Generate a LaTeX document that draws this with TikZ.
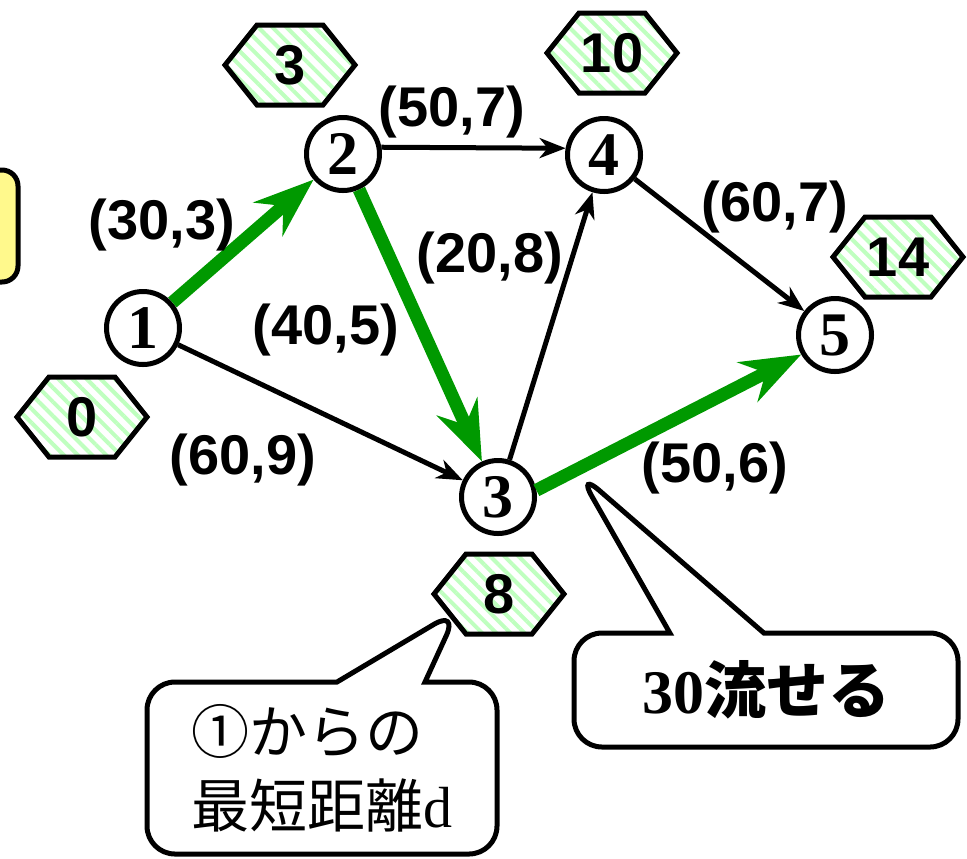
\documentclass[tikz,border=0pt]{standalone}
\usepackage{fontspec}
\setmainfont{Liberation Serif}
\newfontfamily\lsans{Liberation Sans}
\newfontfamily\cjk{Noto Sans CJK JP}
\usetikzlibrary{shapes.geometric, shapes.callouts, arrows.meta, patterns.meta, backgrounds}
\tikzset{
    vertex/.style={circle, draw=black, line width=2.5pt, fill=white, minimum size=36.5pt, inner sep=0pt, font=\fontsize{31}{31}\selectfont\bfseries},
    distnum/.style={inner sep=0pt, font=\lsans\fontsize{28}{28}\selectfont\bfseries},
    hexagon/.style={draw=black, line width=2.5pt, line join=miter, preaction={fill=white}, pattern={Lines[angle=-45, distance=5pt, line width=2pt]}, pattern color=green!25},
    weight/.style={font=\lsans\fontsize{28}{28}\selectfont\bfseries, inner sep=0pt},
    arrow/.style={line width=2.5pt, -{Stealth[length=13pt, width=10pt, inset=4pt]}},
    flowarrow/.style={line width=6.5pt, draw=green!60!black, -{Stealth[length=30pt, width=22pt, inset=10pt]}},
    callbox/.style={rectangle callout, draw=black, line width=2.5pt, fill=white, rounded corners=14pt, inner sep=0pt}
}

\begin{document}
\begin{tikzpicture}[x=0.5pt, y=-0.5pt]
\useasboundingbox (0,0) rectangle (967,858);

% Memo box (cut at the left edge)
\node (memo) [draw=black, line width=2.5pt, fill=yellow!45, rounded corners=8pt, minimum width=40pt, minimum height=56pt] at (-22,226) {};

% Vertices
\node (n1) [vertex] at (143,328) {1};
\node (n2) [vertex] at (343,154) {2};
\node (n3) [vertex] at (498,497) {3};
\node (n4) [vertex] at (604,155) {4};
\node (n5) [vertex] at (835,335) {5};

% Shortest distances
\node (d1) [distnum] at (82,417) {0};
\node (d2) [distnum] at (290,65) {3};
\node (d3) [distnum] at (499,594) {8};
\node (d4) [distnum] at (612,53) {10};
\node (d5) [distnum] at (898,257) {14};
\begin{scope}[on background layer]
\foreach \d in {d1,d2,d3,d4,d5}
    \draw [hexagon] (\d.center) ++(-65,0) -- ++(32,-40) -- ++(66,0) -- ++(32,40) -- ++(-32,40) -- ++(-66,0) -- cycle;
\end{scope}

% Edges
\draw [arrow] (n2.10) -- (n4.170);
\draw [arrow] (n1) -- (n3);
\draw [arrow] (n3) -- (n4);
\draw [arrow] (n4) -- (n5);

% Augmenting path
\draw [flowarrow] (n1) -- (n2);
\draw [flowarrow] (n2) -- (n3);
\draw [flowarrow] (n3.10) -- (n5.210);

% Edge labels (capacity, cost)
\node (w24) [weight] at (452,112) {(50,7)};
\node (w12) [weight] at (162,225) {(30,3)};
\node (w45) [weight] at (775,207) {(60,7)};
\node (w34) [weight] at (490,258) {(20,8)};
\node (w23) [weight] at (326,330) {(40,5)};
\node (w13) [weight] at (243,460) {(60,9)};
\node (w35) [weight] at (715,468) {(50,6)};

% Callouts
\node (note) [callbox, minimum width=175pt, minimum height=86pt, callout absolute pointer={(458,610)}, callout pointer width=44pt, align=left, font=\cjk\fontsize{29}{37}\selectfont] at (322,768) {①からの\\最短距離{\rmfamily d}};
\node (flow) [callbox, minimum width=192pt, minimum height=57pt, callout absolute pointer={(578,472)}, callout pointer width=47pt] at (766,690) {\fontsize{31}{31}\selectfont\bfseries 30{\cjk 流せる}};

\end{tikzpicture}
\end{document}
